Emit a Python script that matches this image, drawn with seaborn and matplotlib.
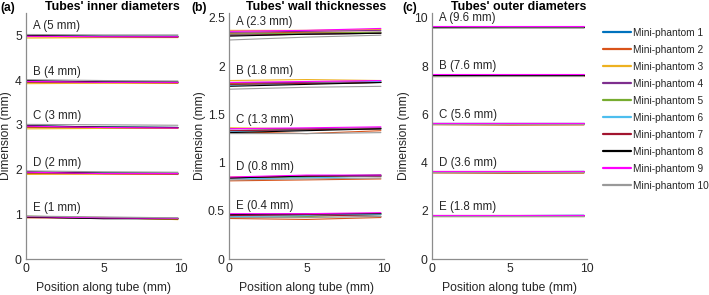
import matplotlib
matplotlib.use("Agg")
import matplotlib.pyplot as plt
from matplotlib.lines import Line2D
import numpy as np
import pandas as pd
import seaborn as sns

# %% data (values at positions along tube)
positions = [0, 5, 9.8]
tube_letters = ["A", "B", "C", "D", "E"]
phantoms = [f"Mini-phantom {i}" for i in range(1, 11)]
colors = ["#0072BD", "#D95319", "#EDB120", "#7E2F8E", "#77AC30",
          "#4DBEEE", "#A2142F", "#000000", "#FF00FF", "#999999"]

inner_nominal = [5, 4, 3, 2, 1]
inner_a = [[4.99, 4.98, 4.98], [4.97, 4.96, 4.96], [4.94, 4.95, 4.95], [4.99, 4.98, 4.97], [4.98, 4.97, 4.97],
           [4.99, 4.98, 4.97], [4.98, 4.97, 4.96], [5.00, 4.98, 4.98], [4.98, 4.97, 4.97], [5.02, 5.01, 5.01]]
inner_b = [[3.98, 3.96, 3.95], [3.95, 3.94, 3.93], [3.92, 3.93, 3.93], [3.98, 3.96, 3.95], [3.96, 3.95, 3.95],
           [3.97, 3.96, 3.95], [3.96, 3.95, 3.94], [3.99, 3.96, 3.96], [3.97, 3.95, 3.95], [4.01, 3.99, 3.98]]
inner_c = [[2.98, 2.95, 2.94], [2.94, 2.93, 2.92], [2.91, 2.92, 2.92], [2.97, 2.95, 2.94], [2.96, 2.94, 2.94],
           [2.97, 2.95, 2.94], [2.96, 2.94, 2.93], [2.98, 2.95, 2.94], [2.97, 2.94, 2.93], [3.01, 3.00, 2.99]]
inner_d = [[1.94, 1.92, 1.91], [1.91, 1.90, 1.89], [1.89, 1.90, 1.89], [1.94, 1.92, 1.91], [1.93, 1.92, 1.91],
           [1.94, 1.92, 1.91], [1.93, 1.91, 1.90], [1.95, 1.92, 1.92], [1.94, 1.91, 1.91], [1.97, 1.95, 1.94]]
inner_e = [[0.93, 0.92, 0.90], [0.92, 0.92, 0.89], [0.93, 0.93, 0.88], [0.95, 0.92, 0.91], [0.96, 0.92, 0.91],
           [0.94, 0.91, 0.91], [0.93, 0.91, 0.90], [0.94, 0.90, 0.90], [0.95, 0.92, 0.91], [0.96, 0.94, 0.92]]

wall_nominal = [2.3, 1.8, 1.3, 0.8, 0.4]
wall_a = [[2.33, 2.34, 2.35], [2.34, 2.35, 2.35], [2.37, 2.37, 2.38], [2.35, 2.36, 2.37], [2.33, 2.34, 2.35],
          [2.32, 2.33, 2.34], [2.32, 2.33, 2.34], [2.31, 2.33, 2.34], [2.36, 2.37, 2.39], [2.27, 2.30, 2.32]]
wall_b = [[1.81, 1.82, 1.83], [1.82, 1.83, 1.83], [1.85, 1.86, 1.85], [1.83, 1.83, 1.84], [1.81, 1.82, 1.83],
          [1.80, 1.82, 1.84], [1.81, 1.82, 1.83], [1.79, 1.81, 1.83], [1.83, 1.84, 1.85], [1.76, 1.78, 1.79]]
wall_c = [[1.33, 1.34, 1.35], [1.32, 1.30, 1.33], [1.36, 1.35, 1.35], [1.35, 1.35, 1.36], [1.33, 1.34, 1.35],
          [1.32, 1.34, 1.35], [1.33, 1.34, 1.35], [1.31, 1.33, 1.35], [1.35, 1.36, 1.37], [1.30, 1.30, 1.31]]
wall_d = [[0.84, 0.85, 0.86], [0.81, 0.82, 0.83], [0.85, 0.86, 0.86], [0.84, 0.86, 0.86], [0.84, 0.85, 0.86],
          [0.83, 0.84, 0.86], [0.84, 0.86, 0.86], [0.84, 0.86, 0.87], [0.85, 0.87, 0.87], [0.82, 0.83, 0.84]]
wall_e = [[0.45, 0.45, 0.47], [0.42, 0.41, 0.43], [0.44, 0.46, 0.47], [0.45, 0.46, 0.46], [0.43, 0.44, 0.46],
          [0.44, 0.45, 0.46], [0.45, 0.46, 0.44], [0.46, 0.47, 0.47], [0.47, 0.47, 0.48], [0.43, 0.43, 0.44]]

outer_nominal = [9.6, 7.6, 5.6, 3.6, 1.8]
outer_a = [[9.63, 9.63, 9.63], [9.61, 9.61, 9.61], [9.62, 9.62, 9.62], [9.63, 9.63, 9.63], [9.62, 9.62, 9.62],
           [9.63, 9.63, 9.63], [9.64, 9.64, 9.64], [9.62, 9.62, 9.62], [9.66, 9.66, 9.66], [9.57, 9.58, 9.58]]
outer_b = [[7.62, 7.62, 7.62], [7.60, 7.60, 7.60], [7.61, 7.61, 7.61], [7.62, 7.62, 7.62], [7.61, 7.61, 7.61],
           [7.62, 7.62, 7.62], [7.63, 7.63, 7.63], [7.61, 7.61, 7.61], [7.65, 7.65, 7.65], [7.56, 7.57, 7.57]]
outer_c = [[5.62, 5.62, 5.62], [5.57, 5.55, 5.56], [5.60, 5.60, 5.60], [5.62, 5.62, 5.62], [5.61, 5.61, 5.61],
           [5.62, 5.62, 5.62], [5.63, 5.63, 5.63], [5.60, 5.61, 5.61], [5.65, 5.65, 5.65], [5.59, 5.59, 5.59]]
outer_d = [[3.62, 3.62, 3.63], [3.57, 3.55, 3.56], [3.60, 3.60, 3.60], [3.62, 3.62, 3.62], [3.61, 3.61, 3.61],
           [3.62, 3.62, 3.63], [3.63, 3.63, 3.63], [3.60, 3.61, 3.61], [3.65, 3.65, 3.65], [3.59, 3.59, 3.59]]
outer_e = [[1.80, 1.80, 1.81], [1.77, 1.77, 1.77], [1.79, 1.79, 1.79], [1.80, 1.80, 1.80], [1.79, 1.79, 1.79],
           [1.80, 1.80, 1.81], [1.81, 1.81, 1.81], [1.79, 1.79, 1.80], [1.83, 1.83, 1.83], [1.78, 1.78, 1.78]]


def to_long(tubes):
    rows = []
    for letter, tube in zip(tube_letters, tubes):
        for name, vals in zip(phantoms, tube):
            for x, y in zip(positions, vals):
                rows.append({"tube": letter, "phantom": name, "pos": x, "dim": y})
    return pd.DataFrame(rows)


panels = [
    ("(a)", "Tubes' inner diameters", inner_nominal, [inner_a, inner_b, inner_c, inner_d, inner_e],
     5.5, [0, 1, 2, 3, 4, 5], ["0", "1", "2", "3", "4", "5"]),
    ("(b)", "Tubes' wall thicknesses", wall_nominal, [wall_a, wall_b, wall_c, wall_d, wall_e],
     2.55, [0, 0.5, 1, 1.5, 2, 2.5], ["0", "0.5", "1", "1.5", "2", "2.5"]),
    ("(c)", "Tubes' outer diameters", outer_nominal, [outer_a, outer_b, outer_c, outer_d, outer_e],
     10.2, [0, 2, 4, 6, 8, 10], ["0", "2", "4", "6", "8", "10"]),
]

# %%
sns.set_style("white")
plt.rcParams["font.family"] = ["Liberation Sans", "DejaVu Sans"]
text_col = "#262626"
spine_col = "#8c8c8c"

W, H = 709, 295
fig = plt.figure(figsize=(W / 100, H / 100), dpi=100)
ax_left = [26, 229, 432]
ax_w = 155
ax_bottom, ax_top = 259, 13
panel_lbl_x = [0, 191, 402]
ylab_right = [12, 206, 410]

for i, (tag, title, nominal, tubes, ytop, yticks, ylabels) in enumerate(panels):
    ax = fig.add_axes([ax_left[i] / W, 1 - ax_bottom / H, ax_w / W, (ax_bottom - ax_top) / H])
    df = to_long(tubes)
    sns.lineplot(data=df, x="pos", y="dim", hue="phantom", hue_order=phantoms, palette=colors,
                 units="tube", estimator=None, linewidth=0.8, legend=False, ax=ax)
    for letter, nom, tube in zip(tube_letters, nominal, tubes):
        top = max(max(v[:2]) for v in tube)
        ax.annotate(f"{letter} ({nom:g} mm)", xy=(0.45, top), xytext=(0, 1.5), textcoords="offset points",
                    ha="left", va="bottom", fontsize=8.3, color=text_col)
    ax.set_xlim(0, 10)
    ax.set_ylim(0, ytop)
    ax.set_xticks([0, 5, 10])
    ax.set_yticks(yticks)
    ax.set_yticklabels(ylabels)
    ax.tick_params(direction="in", length=3, width=0.8, colors=spine_col, labelcolor=text_col,
                   labelsize=8.7, pad=3)
    for side in ["top", "right"]:
        ax.spines[side].set_visible(False)
    for side in ["left", "bottom"]:
        ax.spines[side].set_color(spine_col)
        ax.spines[side].set_linewidth(0.9)
    ax.set_xlabel("Position along tube (mm)", fontsize=8.7, color=text_col)
    ax.set_ylabel("Dimension (mm)", fontsize=8.7, color=text_col)
    ax.xaxis.set_label_coords(0.5, -0.095)
    ax.yaxis.set_label_coords((ylab_right[i] - ax_left[i]) / ax_w, 0.5)
    ax.set_title(title, fontsize=8.9, fontweight="bold", color="black", pad=2)
    ax.title.set_x(0.56)
    fig.text(panel_lbl_x[i] / W, 1 - 8 / H, tag, fontsize=8.7, fontweight="bold", color="black",
             ha="left", va="center")

handles = [Line2D([0], [0], color=c, linewidth=1.6) for c in colors]
fig.legend(handles, phantoms, loc="upper left", bbox_to_anchor=(603 / W, 1 - 28 / H),
           frameon=False, fontsize=7.3, handlelength=2.75, handletextpad=0.2,
           labelspacing=0.69, borderpad=0, borderaxespad=0, labelcolor=text_col)

fig.savefig("out.png", dpi=100)
